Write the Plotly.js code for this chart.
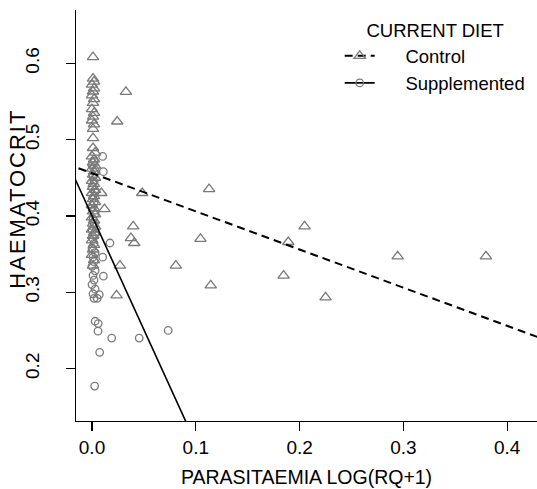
<!DOCTYPE html>
<html><head><meta charset="utf-8">
<script src="https://cdn.plot.ly/plotly-3.0.1.min.js"></script>
<style>html,body{margin:0;padding:0;background:#fff}#chart{width:537px;height:489px}
.ytitle-spaced .annotation-text{letter-spacing:2px}</style>
</head><body><div id="chart" class="ytitle-spaced"></div>
<script>
// Control diet: parasitaemia log(RQ+1) vs haematocrit
const controlX = [0.001,0.001,0.002,0.000,0.002,0.001,0.000,0.002,0.001,0.000,0.002,0.001,0.000,0.002,0.001,0.001,
  0.001,0.003,0.000,0.002,0.001,0.003,0.000,0.002,0.001,0.003,0.000,0.002,0.001,0.003,0.000,0.002,0.001,0.003,0.000,
  0.002,0.001,0.003,0.000,0.002,0.001,0.003,0.000,0.002,0.001,0.000,0.002,0.001,0.000,0.002,0.001,
  0.009,0.012,0.0327,0.0243,0.1128,0.0484,0.0397,0.0375,0.0407,0.2048,0.1045,0.1891,0.0269,0.0808,0.1846,0.1144,
  0.0237,0.225,0.2945,0.3795];
const controlY = [0.608,0.580,0.576,0.572,0.567,0.563,0.558,0.553,0.548,0.540,0.535,0.530,0.525,0.520,0.514,0.502,
  0.489,0.483,0.478,0.474,0.470,0.466,0.462,0.458,0.454,0.450,0.446,0.442,0.438,0.434,0.430,0.426,0.422,0.418,0.414,
  0.410,0.406,0.402,0.398,0.394,0.390,0.386,0.382,0.378,0.374,0.368,0.362,0.356,0.349,0.342,0.335,
  0.430,0.409,0.5626,0.5237,0.4352,0.430,0.3863,0.371,0.3645,0.3863,0.370,0.3658,0.3348,0.3348,0.3217,0.309,
  0.296,0.2933,0.347,0.347];
// Supplemented diet
const suppX = [0.002,0.000,0.003,0.001,0.002,0.000,0.003,0.001,0.002,0.000,0.003,0.001,0.002,0.000,0.003,0.001,
  0.002,0.000,0.003,0.001,0.002,0.000,0.003,0.001,0.002,0.000,0.003,0.001,0.002,
  0.0103,0.0109,0.0173,0.0103,0.011,0.0734,0.019,0.0455,0.0058,0.0074,0.0026,0.003,0.006,0.007,0.005];
const suppY = [0.472,0.466,0.460,0.452,0.445,0.438,0.431,0.424,0.417,0.410,0.403,0.396,0.389,0.382,0.376,0.370,
  0.364,0.358,0.352,0.346,0.340,0.334,0.328,0.322,0.316,0.310,0.304,0.298,0.292,
  0.478,0.458,0.3645,0.346,0.321,0.250,0.240,0.240,0.249,0.2213,0.177,0.262,0.259,0.297,0.292];
// fitted regression lines: [intercept, slope]
const controlFit = [0.456, -0.50];
const suppFit = [0.400, -2.98];
const fitX = [-0.06, 0.6];
const seriesNames = ['Control', 'Supplemented'];
const legendTitle = 'CURRENT DIET';
const xTitle = 'PARASITAEMIA LOG(RQ+1)';
const yTitle = 'HAEMATOCRIT';
const xTickVals = [0, 0.1, 0.2, 0.3, 0.4];
const xTickText = ['0.0', '0.1', '0.2', '0.3', '0.4'];
const yTickVals = [0.2, 0.3, 0.4, 0.5, 0.6];
const yTickText = ['0.2', '0.3', '0.4', '0.5', '0.6'];

const FONT = '"Liberation Sans", Arial, Helvetica, sans-serif';
const GRAY = '#7a7a7a';
const PAD = '\u00a0\u00a0\u00a0\u00a0\u00a0';
const fitY = (f) => fitX.map(x => f[0] + f[1] * x);

const traces = [
  {x: controlX, y: controlY, mode: 'markers', type: 'scatter', showlegend: false,
   marker: {symbol: 'triangle-up-open', size: 10, color: GRAY, line: {width: 1.3, color: GRAY}}},
  {x: suppX, y: suppY, mode: 'markers', type: 'scatter', showlegend: false,
   marker: {symbol: 'circle-open', size: 7.5, color: GRAY, line: {width: 1.3, color: GRAY}}},
  {x: fitX, y: fitY(controlFit), mode: 'lines+markers', type: 'scatter', name: PAD + seriesNames[0],
   line: {color: '#000', width: 2, dash: '8px,5px'},
   marker: {symbol: 'triangle-up-open', size: 10, color: GRAY, line: {width: 1.3, color: GRAY}}},
  {x: fitX, y: fitY(suppFit), mode: 'lines+markers', type: 'scatter', name: PAD + seriesNames[1],
   line: {color: '#000', width: 1.6},
   marker: {symbol: 'circle-open', size: 7.5, color: GRAY, line: {width: 1.3, color: GRAY}}}
];

const axisCommon = {showline: true, linecolor: '#000', linewidth: 1.3, ticks: 'outside', ticklen: 9,
  tickwidth: 1.3, tickcolor: '#000', showgrid: false, zeroline: false,
  tickfont: {family: FONT, size: 19, color: '#000'}};

const layout = {
  width: 537, height: 489,
  margin: {l: 76, r: 0, t: 10, b: 68},
  paper_bgcolor: '#fff', plot_bgcolor: '#fff',
  font: {family: FONT, size: 18, color: '#000'},
  xaxis: Object.assign({}, axisCommon, {range: [-0.0154, 0.4287], tickvals: xTickVals, ticktext: xTickText,
    title: {text: xTitle, font: {family: FONT, size: 19.5, color: '#000'}, standoff: 13}}),
  yaxis: Object.assign({}, axisCommon, {range: [0.1313, 0.6698], tickvals: yTickVals, ticktext: yTickText,
    tickangle: -90, ticklabelstandoff: 19}),
  annotations: [{text: yTitle, textangle: -90, xref: 'paper', yref: 'y', x: -0.126, y: 0.4225,
    xanchor: 'center', yanchor: 'middle', showarrow: false,
    font: {family: FONT, size: 22, color: '#000'}}],
  showlegend: true,
  legend: {x: 0.572, y: 0.992, xanchor: 'left', yanchor: 'top', bgcolor: 'rgba(0,0,0,0)',
    traceorder: 'normal', tracegroupgap: 0,
    font: {family: FONT, size: 18.5, color: '#000'},
    title: {text: legendTitle, side: 'top center', font: {family: FONT, size: 18.5, color: '#000'}}}
};

Plotly.newPlot('chart', traces, layout, {displayModeBar: false, staticPlot: true});
</script>
</body></html>
